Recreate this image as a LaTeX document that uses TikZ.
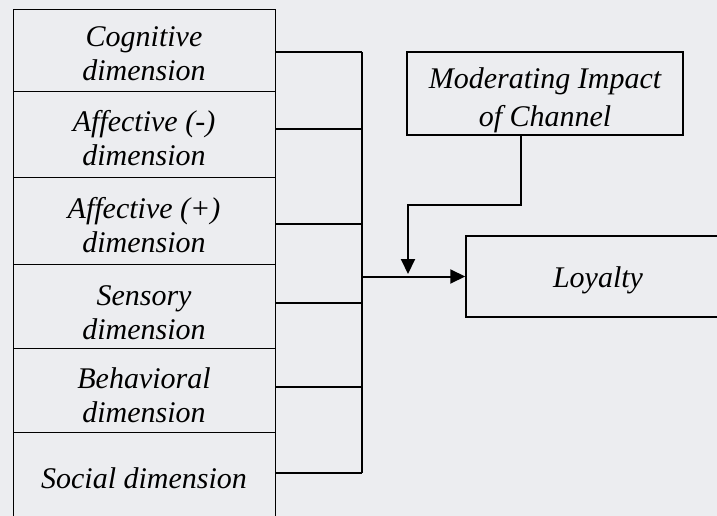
\documentclass[tikz,border=0pt]{standalone}
\usepackage{fontspec}
\setmainfont{Liberation Serif}
\usetikzlibrary{arrows.meta,calc}
\definecolor{pagebg}{RGB}{236,237,240}
\tikzset{
  dimbox/.style={draw, line width=1pt, minimum width=262pt, inner sep=0pt},
  dimtext/.style={align=center, inner sep=0pt, font=\fontsize{30}{34}\selectfont\itshape},
  mainbox/.style={draw, line width=1.5pt, inner sep=0pt},
  maintext/.style={align=center, inner sep=0pt, font=\fontsize{30}{38}\selectfont\itshape},
  link/.style={line width=2pt},
  arr/.style={line width=2pt, -{Triangle[length=15pt,width=14pt]}}
}
\begin{document}
\begin{tikzpicture}[x=1pt,y=-1pt]
  \useasboundingbox (0,0) rectangle (717,516);
  \clip (0,0) rectangle (717,516);
  \fill[pagebg] (0,0) rectangle (717,516);

  % column of experience dimensions
  \node[dimbox, minimum height=82pt,
        label={[dimtext, yshift=-3pt]center:Cognitive\\dimension}] (c1) at (144,51) {};
  \node[dimbox, minimum height=85pt,
        label={[dimtext, yshift=-4pt]center:Affective (-)\\dimension}] (c2) at (144,134.5) {};
  \node[dimbox, minimum height=87pt,
        label={[dimtext, yshift=-5pt]center:Affective (+)\\dimension}] (c3) at (144,220.5) {};
  \node[dimbox, minimum height=84pt,
        label={[dimtext, yshift=-7pt]center:Sensory\\dimension}] (c4) at (144,306) {};
  \node[dimbox, minimum height=84pt,
        label={[dimtext, yshift=-5pt]center:Behavioral\\dimension}] (c5) at (144,390) {};
  \node[dimbox, minimum height=90pt,
        label={[dimtext, yshift=-1pt]center:Social dimension}] (c6) at (144,477) {};

  % moderator and outcome
  \node[mainbox, minimum width=276pt, minimum height=83pt,
        label={[maintext, yshift=-7pt]center:Moderating Impact\\of Channel}] (mod) at (545,93.5) {};
  \node[mainbox, minimum width=264pt, minimum height=81pt,
        label={[maintext, yshift=-4pt]center:Loyalty}] (loy) at (598,276.5) {};

  % branch points on the collecting bus
  \coordinate (b1) at (362,52);
  \coordinate (b2) at (362,129);
  \coordinate (b3) at (362,224);
  \coordinate (b4) at (362,303);
  \coordinate (b5) at (362,387);
  \coordinate (b6) at (362,473);
  \coordinate (jn) at (408,274);

  \draw[link] (b1) -- (b6);
  \foreach \i in {1,...,6} {
    \draw[link] (b\i -| c\i.east) -- (b\i);
  }
  \draw[arr] (b1 |- loy.west) -- (loy.west);
  \draw[arr] ($(mod.south)+(-24,0)$) -- ++(0,69) -| (jn);
\end{tikzpicture}
\end{document}
